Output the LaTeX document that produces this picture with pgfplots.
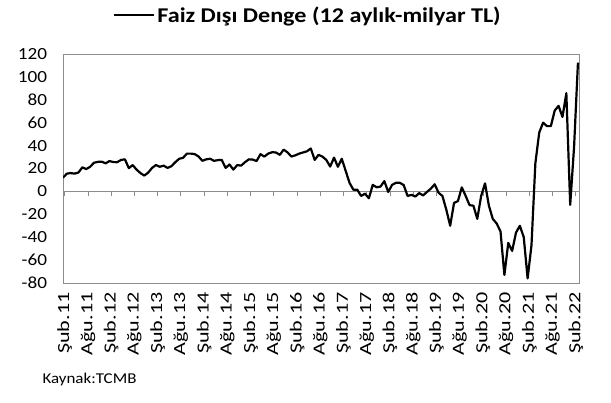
\documentclass[border=0pt]{standalone}
\usepackage{fontspec}
\setmainfont{Carlito}
\usepackage{graphicx}
\usepackage{pgfplots}
\pgfplotsset{compat=1.18}
\newcommand\xl[1]{\scalebox{1.3}[1]{#1}}
\definecolor{axgray}{RGB}{140,140,140}
\begin{document}
\begin{tikzpicture}[x=1pt,y=1pt]
\path[use as bounding box] (0pt,0pt) rectangle (611pt,403pt);
% zero line with its tick marks
\begin{axis}[
  at={(63pt,120pt)}, anchor=south west,
  scale only axis, width=516.5pt, height=229pt,
  xmin=0, xmax=133.4, ymin=-80, ymax=120,
  axis x line=middle, axis y line=none,
  axis line style={draw=axgray, line width=0.8pt, -},
  xtick={0.45,6.45,...,132.45}, xticklabels={}, ytick=\empty,
  x tick style={draw=axgray, line width=0.8pt},
  major tick length=5pt, xtick align=outside,
]
\end{axis}
\begin{axis}[
  at={(63pt,120pt)}, anchor=south west,
  scale only axis, width=516.5pt, height=229pt,
  xmin=0, xmax=133.4, ymin=-80, ymax=120,
  axis line style={draw=axgray, line width=0.8pt},
  ytick={-80,-60,...,120},
  xtick={0.45,6.45,...,132.45},
  xticklabels={\xl{Şub.11},\xl{Ağu.11},\xl{Şub.12},\xl{Ağu.12},\xl{Şub.13},\xl{Ağu.13},
    \xl{Şub.14},\xl{Ağu.14},\xl{Şub.15},\xl{Ağu.15},\xl{Şub.16},\xl{Ağu.16},\xl{Şub.17},
    \xl{Ağu.17},\xl{Şub.18},\xl{Ağu.18},\xl{Şub.19},\xl{Ağu.19},\xl{Şub.20},\xl{Ağu.20},
    \xl{Şub.21},\xl{Ağu.21},\xl{Şub.22}},
  major tick length=0pt, tick style={draw=none},
  /pgf/number format/assume math mode=true,
  yticklabel style={font=\fontsize{17}{20}\selectfont, anchor=east, xscale=1.13},
  yticklabel shift=12pt,
  xticklabel style={font=\fontsize{17}{20}\selectfont, rotate=90, anchor=east},
  xticklabel shift=6pt,
  legend style={at={(0.0968,1.17)}, anchor=west, draw=none, fill=none,
    inner sep=0pt, font=\bfseries\fontsize{21}{24}\selectfont},
  legend image code/.code={\draw[#1] (0pt,0pt) -- (40pt,0pt);},
]
\addplot[black, line width=2.2pt, line join=round] coordinates {
(0,12) (1,15.5) (2,16) (3,15.5) (4,16.5) (5,21) (6,19.5) (7,21.5) (8,25) (9,25.8)
(10,26) (11,24.5) (12,26.5) (13,25.6) (14,25.5) (15,27.5) (16,28) (17,20.3) (18,23) (19,19)
(20,16) (21,13.8) (22,16.4) (23,20.5) (24,23) (25,21.5) (26,22.5) (27,20.5) (28,22) (29,25.5)
(30,28.5) (31,29.3) (32,33) (33,33) (34,32.6) (35,30.5) (36,26.7) (37,28) (38,28.5) (39,26.7)
(40,27.3) (41,27.5) (42,20.5) (43,23.5) (44,19) (45,23) (46,22.5) (47,25.5) (48,28) (49,27.8)
(50,26.5) (51,32.5) (52,30.4) (53,33) (54,34.2) (55,34) (56,31.9) (57,36.5) (58,34) (59,30.4)
(60,31.5) (61,33) (62,34) (63,35) (64,37.5) (65,27.5) (66,31.9) (67,30.4) (68,27.5) (69,21.7)
(70,29.5) (71,21.5) (72,28.5) (73,18) (74,7.5) (75,1.5) (76,1.5) (77,-4) (78,-2) (79,-6)
(80,5.7) (81,3.6) (82,4.2) (83,9) (84,-0.5) (85,5.7) (86,7.5) (87,7.5) (88,5.5) (89,-4)
(90,-3) (91,-4.5) (92,-1.5) (93,-3.5) (94,-0.5) (95,2.4) (96,6.2) (97,-1.2) (98,-4) (99,-16)
(100,-30) (101,-10) (102,-8.5) (103,3.5) (104,-4) (105,-12) (106,-12.5) (107,-24) (108,-4) (109,7)
(110,-12.5) (111,-24) (112,-28) (113,-35) (114,-73) (115,-45) (116,-52) (117,-36) (118,-30) (119,-40)
(120,-76) (121,-47) (122,24.6) (123,51.4) (124,60) (125,57) (126,57) (127,70.6) (128,74.7) (129,65)
(130,85.8) (131,-11.8) (132,39) (133,112.5)
};
\addlegendentry{\scalebox{1.15}[1]{Faiz Dışı Denge (12 aylık-milyar TL)}}
\end{axis}
\node[anchor=west, font=\fontsize{15}{18}\selectfont] at (39pt,23pt) {\scalebox{1.13}[1]{Kaynak:TCMB}};
\end{tikzpicture}
\end{document}
